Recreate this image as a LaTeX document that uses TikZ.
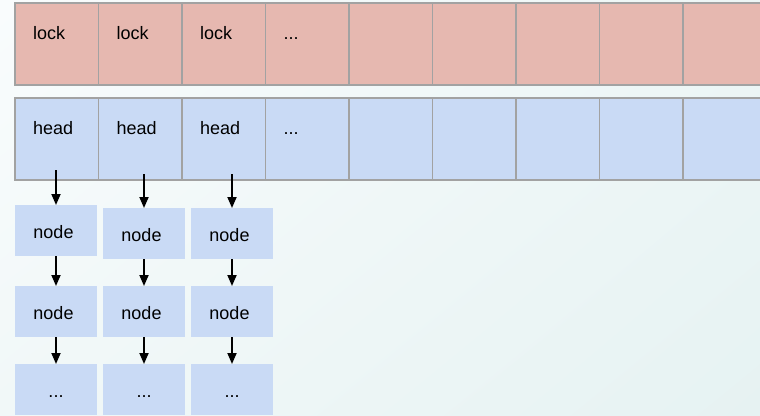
\documentclass[tikz,border=0pt]{standalone}
\usepackage{fontspec}
\setmainfont{Liberation Sans}
\usetikzlibrary{arrows.meta,calc,shadings}
\definecolor{lockfill}{HTML}{E6B8B0}
\definecolor{headfill}{HTML}{C9DAF5}
\definecolor{gridline}{HTML}{A2A2A2}
\definecolor{bgTL}{HTML}{F9FCFD}
\definecolor{bgTR}{HTML}{EDF6F6}
\definecolor{bgBL}{HTML}{F1F8F8}
\definecolor{bgBR}{HTML}{E6F2F2}
\newcommand{\nodelabel}{node\kern5pt}
\begin{document}
\begin{tikzpicture}[x=1pt,y=-1pt,
  cell/.style={rectangle,draw=gridline,line width=1.7pt,minimum width=83.5pt,
    minimum height=82pt,inner sep=0pt,outer sep=0pt,anchor=north west},
  lockcell/.style={cell,fill=lockfill},
  headcell/.style={cell,fill=headfill},
  celltext/.style={anchor=base west,inner sep=0pt,font=\fontsize{18}{22}\selectfont},
  listnode/.style={rectangle,fill=headfill,minimum width=82pt,minimum height=51pt,
    inner sep=0pt,outer sep=0pt,text height=16pt,text depth=0pt,
    font=\fontsize{18}{22}\selectfont},
  link/.style={-{Triangle[width=9pt,length=11pt]},line width=1.8pt,black}]
\useasboundingbox (0,0) rectangle (760,415);
\clip (0,0) rectangle (760,415);
% background wash
\shade[upper left=bgTL,upper right=bgTR,lower left=bgBL,lower right=bgBR]
  (0,0) rectangle (760,415);

% lock array and head array
\foreach \i in {1,...,9} {
  \node[lockcell] (l\i) at ({15+83.5*(\i-1)},3) {};
  \node[headcell] (h\i) at ({15+83.5*(\i-1)},98) {};
}
\node[celltext] (lt1) at ($(l1.north west)+(18,36)$) {lock};
\node[celltext] (lt2) at ($(l2.north west)+(18,36)$) {lock};
\node[celltext] (lt3) at ($(l3.north west)+(18,36)$) {lock};
\node[celltext] (lt4) at ($(l4.north west)+(18,36)$) {...};
\node[celltext] (ht1) at ($(h1.north west)+(18,36)$) {head};
\node[celltext] (ht2) at ($(h2.north west)+(18,36)$) {head};
\node[celltext] (ht3) at ($(h3.north west)+(18,36)$) {head};
\node[celltext] (ht4) at ($(h4.north west)+(18,36)$) {...};

% linked lists hanging from the first three heads
\node[listnode] (a1) at (56,230.5) {\nodelabel};
\node[listnode] (a2) at (56,311.5) {\nodelabel};
\node[listnode] (a3) at (56,389.5) {...};
\node[listnode] (b1) at (144,233.5) {\nodelabel};
\node[listnode] (b2) at (144,311.5) {\nodelabel};
\node[listnode] (b3) at (144,389.5) {...};
\node[listnode] (c1) at (232,233.5) {\nodelabel};
\node[listnode] (c2) at (232,311.5) {\nodelabel};
\node[listnode] (c3) at (232,389.5) {...};

\coordinate (s1) at (56,170);
\coordinate (s2) at (144,174);
\coordinate (s3) at (232,174);

\draw[link] (s1) -- (a1);
\draw[link] (a1) -- (a2);
\draw[link] (a2) -- (a3);
\draw[link] (s2) -- (b1);
\draw[link] (b1) -- (b2);
\draw[link] (b2) -- (b3);
\draw[link] (s3) -- (c1);
\draw[link] (c1) -- (c2);
\draw[link] (c2) -- (c3);
\end{tikzpicture}
\end{document}
